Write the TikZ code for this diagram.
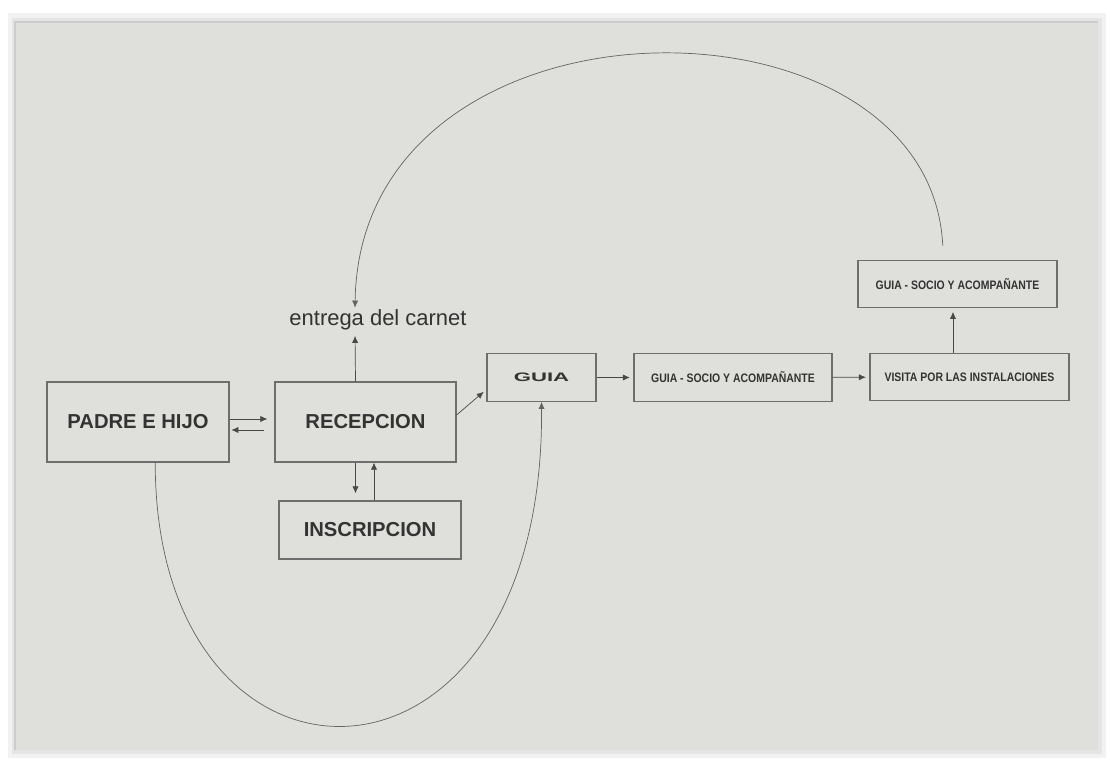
\documentclass[tikz,border=0pt]{standalone}
\usepackage{fontspec}
\setmainfont{Liberation Sans}
\usepackage{graphicx}
\usetikzlibrary{calc,positioning,arrows.meta}
\definecolor{fondo}{HTML}{DFDFDB}
\definecolor{borde}{HTML}{6E6E6E}
\definecolor{trazo}{HTML}{484848}
\definecolor{letra}{HTML}{333333}
\newcommand{\estrecho}[1]{\scalebox{0.85}[1]{#1}}
\tikzset{
  caja/.style={rectangle, draw=borde, line width=0.7pt, fill=fondo, text=letra, font=\bfseries\fontsize{11.5}{13}\selectfont, inner sep=0pt},
  cajita/.style={rectangle, draw=borde, line width=0.7pt, fill=fondo, text=letra, font=\bfseries\fontsize{7}{8}\selectfont, minimum width=3.96cm, minimum height=0.95cm, inner sep=0pt},
  texto/.style={text=letra, font=\fontsize{12.5}{14}\selectfont, inner sep=1pt},
  line/.style={draw=trazo, thin, -{Latex[length=4pt,width=3.5pt]}, shorten >=2pt},
  curva/.style={draw=trazo!85, thin, -{Latex[length=4pt,width=3.5pt]}},
}
\begin{document}
\begin{tikzpicture}[x=0.02cm,y=-0.02cm]
\useasboundingbox (0,0) rectangle (1110,761);
% fondo y sombra
\fill[white] (0,0) rectangle (1110,761);
\fill[black!5] (8,13) rectangle (1106,758);
\fill[black!10] (12,18) rectangle (1102,754);
\fill[fondo] (15,22) rectangle (1098,750);
\draw[black!20, line width=1pt] (15,750) -- (15,22) -- (1098,22);

  \node[caja, minimum width=3.64cm, minimum height=1.6cm] (padre) at (138,422) {PADRE E HIJO};
  \node[caja, minimum width=3.62cm, minimum height=1.6cm] (recep) at (365.5,422) {RECEPCION};
  \node[caja, minimum width=3.64cm, minimum height=1.16cm] (inscrip) at (370,530) {INSCRIPCION};
  \node[texto] (carnet) at (378,320) {entrega del carnet};
  \node[cajita, minimum width=2.18cm] (guia) at (541.5,377.5) {\scalebox{1.8}[1]{GUIA}};
  \node[cajita] (socio) at (733,377.5) {\estrecho{GUIA - SOCIO Y ACOMPAÑANTE}};
  \node[cajita, minimum width=3.98cm] (visita) at (969.5,377) {\estrecho{VISITA POR LAS INSTALACIONES}};
  \node[cajita, minimum width=3.98cm] (socio2) at (957.5,284) {\estrecho{GUIA - SOCIO Y ACOMPAÑANTE}};

  \path[line,shorten >=4pt] ([yshift=0.06cm]padre.east) -- ([yshift=0.06cm]recep.west);
  \path[line,shorten <=6pt,shorten >=1pt] ([yshift=-0.16cm]recep.west) -- ([yshift=-0.16cm]padre.east);
  \path[line] ([xshift=-0.2cm]recep.north) -- ([xshift=-0.46cm]carnet.south);
  \path[line,shorten >=4pt] ([xshift=-0.2cm]recep.south) -- ([xshift=-0.2cm]recep.south |- inscrip.north);
  \path[line,shorten >=0pt] ([xshift=0.17cm]recep.south |- inscrip.north) -- ([xshift=0.17cm]recep.south);
  \path[line] ([yshift=0.14cm]recep.east) -- ([yshift=-0.24cm]guia.west);
  \path[line] (guia) -- (socio);
  \path[line] (socio) -- (visita);
  \path[line] ([xshift=-0.09cm]socio2.south |- visita.north) -- ([xshift=-0.09cm]socio2.south);
  \path[curva,shorten <=8pt] (socio2.120) .. controls (930,-20) and (360,-20) .. ([xshift=-0.46cm]carnet.north);
  \path[curva] (padre.-67) .. controls (155,823) and (545,823) .. (guia.south);
\end{tikzpicture}
\end{document}
